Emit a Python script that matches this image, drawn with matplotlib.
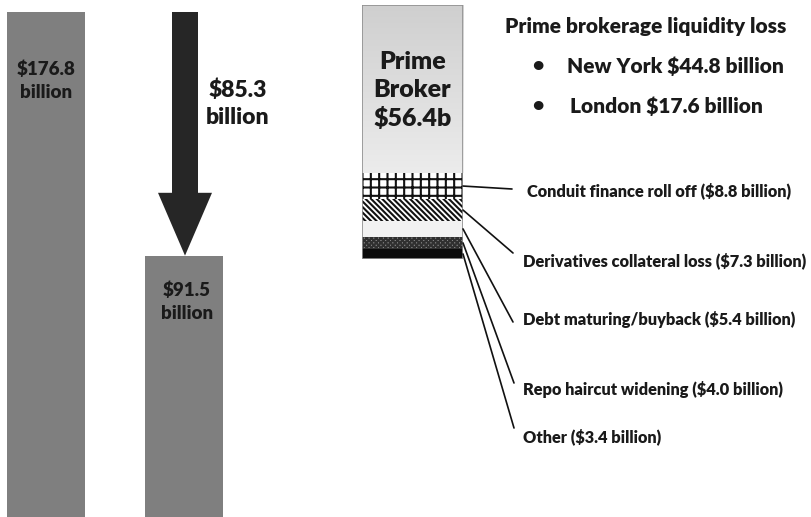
import matplotlib
matplotlib.use("Agg")
import matplotlib.pyplot as plt
import numpy as np
from matplotlib.colors import LinearSegmentedColormap

plt.rcParams['font.family'] = ['Lato', 'DejaVu Sans']
plt.rcParams['hatch.linewidth'] = 1.5

# ---- data ----
before_after = [176.8, 91.5]
before_after_labels = ["$176.8\nbillion", "$91.5\nbillion"]
drop_value = 85.3
drop_label = "$85.3\nbillion"

components = ["Prime Broker", "Conduit finance roll off", "Derivatives collateral loss",
              "Debt maturing/buyback", "Repo haircut widening", "Other"]
component_values = [56.4, 8.8, 7.3, 5.4, 4.0, 3.4]
component_labels = ["Prime\nBroker\n$56.4b",
                    "Conduit finance roll off ($8.8 billion)",
                    "Derivatives collateral loss ($7.3 billion)",
                    "Debt maturing/buyback ($5.4 billion)",
                    "Repo haircut widening ($4.0 billion)",
                    "Other ($3.4 billion)"]
title_text = "Prime brokerage liquidity loss"
bullet_items = ["New York $44.8 billion", "London $17.6 billion"]

W, H = 812, 517
WEIGHT = 'heavy'
TXT = '#1a1a1a'
fig = plt.figure(figsize=(W / 100, H / 100), dpi=100)
fig.patch.set_facecolor('white')

# ---- left part: bars and arrow ----
ax = fig.add_axes([0, 0, 1, 1])
ax.set_xlim(0, W)
ax.set_ylim(0, 181)
ax.axis('off')
bar_x = [46, 184]
ax.bar(bar_x, before_after, width=78, color='#7f7f7f', align='center')
ax.arrow(185, before_after[0], 0, -drop_value, width=26, head_width=54,
         head_length=22, length_includes_head=True, color='#262626', lw=0)

fig.text(46, H - 81, before_after_labels[0], ha='center', va='center',
         fontsize=13.5, fontweight=WEIGHT, color=TXT, linespacing=1.4,
         transform=None)
fig.text(187, H - 302, before_after_labels[1], ha='center', va='center',
         fontsize=13.5, fontweight=WEIGHT, color=TXT, linespacing=1.4,
         transform=None)
fig.text(238, H - 104, drop_label, ha='center', va='center',
         fontsize=16.5, fontweight=WEIGHT, color=TXT, linespacing=1.38,
         transform=None)

# ---- right part: stacked bar ----
top_px, bot_px = 5, 259
ax2 = fig.add_axes([362 / W, (H - bot_px) / H, 101 / W, (bot_px - top_px) / H])
total = sum(component_values)
ax2.axis('off')

order = list(range(len(components)))[::-1]
faces = {0: '#dcdcdc', 1: 'white', 2: 'white', 3: '#f2f2f2', 4: '#8a8a8a', 5: '#0a0a0a'}
hatches = {1: '++', 2: '\\' * 6, 4: 'xxxxxxx'}
hatch_cols = {1: '#111111', 2: '#111111', 4: '#303030'}
bottom = 0.0
mids = {}
bars = {}
for i in order:
    v = component_values[i]
    b = ax2.bar(0.5, v, bottom=bottom, width=1.0, color=faces[i], lw=0)
    bars[i] = b[0]
    if i in hatches:
        ax2.bar(0.5, v, bottom=bottom, width=1.0, fill=False, hatch=hatches[i],
                edgecolor=hatch_cols[i], lw=0)
    mids[i] = bottom + v / 2
    bottom += v

p = bars[0]
y0 = p.get_y()
y1 = y0 + p.get_height()
grad = np.linspace(0, 1, 256).reshape(-1, 1)
cmap = LinearSegmentedColormap.from_list('g', ['#ececec', '#cfcfcf'])
im = ax2.imshow(grad, extent=(0, 1, y0, y1), origin='lower', cmap=cmap,
                aspect='auto', zorder=2)
im.set_clip_path(p)
ax2.bar(0.5, total, width=1.0, fill=False, edgecolor='#909090', lw=1.2, zorder=3)
ax2.set_xlim(0, 1)
ax2.set_ylim(0, total)

ax2.text(0.5, y0 + (y1 - y0) * 0.49, component_labels[0], ha='center', va='center',
         fontsize=18, fontweight=WEIGHT, color=TXT, linespacing=1.32, zorder=4)

line_ends = {1: (512, 189), 2: (513, 253), 3: (513, 322), 4: (514, 383), 5: (514, 428)}
label_pos = {1: (527, 191), 2: (523, 261), 3: (523, 319), 4: (523, 390), 5: (523, 437)}
for i in range(1, len(components)):
    ex, ey = line_ends[i]
    ax2.annotate('', xy=(1.0, mids[i]), xycoords='data',
                 xytext=(ex, H - ey), textcoords='figure pixels',
                 arrowprops=dict(arrowstyle='-', color='#111111', lw=1.2,
                                 shrinkA=0, shrinkB=0),
                 annotation_clip=False)
    lx, ly = label_pos[i]
    fig.text(lx, H - ly, component_labels[i], ha='left', va='center',
             fontsize=11.8, fontweight=WEIGHT, color=TXT, transform=None)

fig.text(505, H - 27, title_text, ha='left', va='center', fontsize=15,
         fontweight=WEIGHT, color=TXT, transform=None)
bullet_y = [66, 106]
bullet_x = [567, 570]
for t, by, bx in zip(bullet_items, bullet_y, bullet_x):
    fig.text(538, H - by, "\u2022", ha='center', va='center', fontsize=14,
             fontweight=WEIGHT, color=TXT, transform=None)
    fig.text(bx, H - by, t, ha='left', va='center', fontsize=15,
             fontweight=WEIGHT, color=TXT, transform=None)

fig.savefig('out.png', dpi=100, facecolor='white')
